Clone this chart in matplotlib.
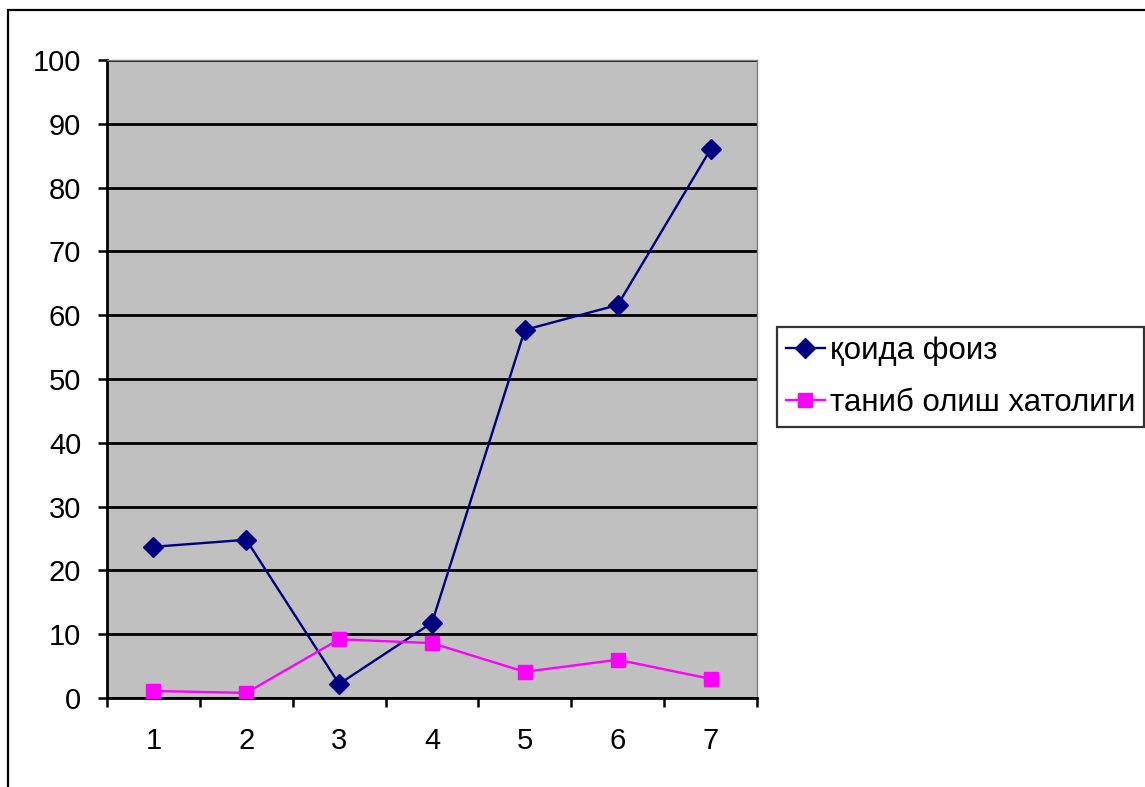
import matplotlib.pyplot as plt
from matplotlib.patches import Rectangle

plt.rcParams['font.family'] = ['Liberation Sans', 'DejaVu Sans']

categories = ['1', '2', '3', '4', '5', '6', '7']
qoida_foiz = [23.7, 24.8, 2.2, 11.8, 57.7, 61.6, 86.0]
xatolik = [1.1, 0.8, 9.2, 8.6, 4.1, 6.0, 3.0]

fig = plt.figure(figsize=(11.45, 7.87), dpi=100)
ax = fig.add_axes([107 / 1145, 1 - 698 / 787, 650 / 1145, 638 / 787])
ax.set_facecolor('#c0c0c0')

x = list(range(len(categories)))
ax.plot(x, qoida_foiz, color='#000080', lw=1.7, marker='D', ms=10.5,
        label='қоида фоиз', zorder=3)
ax.plot(x, xatolik, color='#ff00ff', lw=1.7, marker='s', ms=10,
        label='таниб олиш хатолиги', zorder=3)

ax.set_xlim(-0.5, len(categories) - 0.5)
ax.set_ylim(0, 100)
ax.set_yticks(range(0, 101, 10))
ax.yaxis.grid(True, color='black', lw=2.0)
ax.set_axisbelow(True)

# category labels sit between the boundary ticks
ax.set_xticks(x)
ax.set_xticklabels(categories)
ax.set_xticks([i - 0.5 for i in range(len(categories) + 1)], minor=True)
ax.tick_params(axis='x', which='major', length=0, pad=21, labelsize=21)
ax.tick_params(axis='x', which='minor', length=6.5, width=1.8, direction='out')
ax.tick_params(axis='y', length=6.5, width=1.8, pad=12, labelsize=21)

for side in ['left', 'bottom']:
    ax.spines[side].set_linewidth(2.0)
    ax.spines[side].set_color('black')
for side in ['top', 'right']:
    ax.spines[side].set_linewidth(1.0)
    ax.spines[side].set_color('#808080')

leg = fig.legend(loc='upper left', bbox_to_anchor=(777 / 1145, 1 - 327 / 787),
                 fontsize=22.5, frameon=True, fancybox=False, edgecolor='black',
                 handlelength=1.25, handletextpad=0.15, borderpad=0.28,
                 labelspacing=0.72, borderaxespad=0)
leg.get_frame().set_linewidth(1.6)

# chart frame around everything
fig.patches.append(Rectangle((8 / 1145, -0.1), 1.2, 1.1 - 10 / 787,
                             transform=fig.transFigure, fill=False,
                             edgecolor='black', lw=1.6))

fig.savefig('out.png', dpi=100)
